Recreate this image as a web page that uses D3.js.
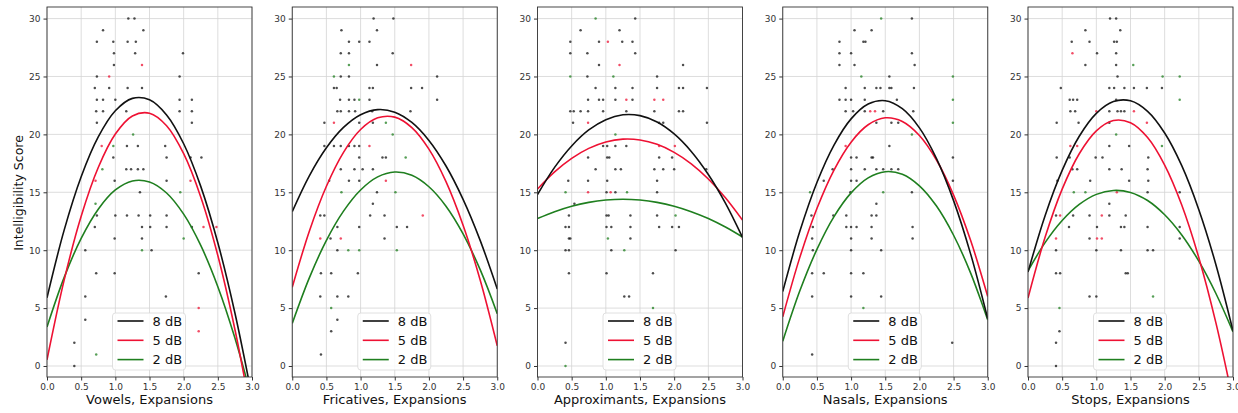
<!DOCTYPE html>
<html><head><meta charset="utf-8">
<script src="https://cdn.jsdelivr.net/npm/d3@7/dist/d3.min.js"></script>
<style>
html,body{margin:0;padding:0;background:#fff;}
svg{display:block;font-family:"DejaVu Sans",sans-serif;}
</style></head>
<body><svg id="c" width="1238" height="413"></svg>
<script>
const panelNames = ["Vowels, Expansions","Fricatives, Expansions","Approximants, Expansions","Nasals, Expansions","Stops, Expansions"];
const seriesLabels = ["8 dB","5 dB","2 dB"];
const xTicks = [0,0.5,1,1.5,2,2.5,3];
const yTicks = [0,5,10,15,20,25,30];
const xGrid = [0,0.25,0.5,0.75,1,1.25,1.5,1.75,2,2.25,2.5,2.75,3];

const curves8dB = [
 [5.89,11.71,16.34,19.78,22.04,23.11,22.99,21.68,19.19,15.51,10.64,4.58,-2.66],
 [13.33,16.42,18.84,20.60,21.70,22.14,21.92,21.03,19.48,17.27,14.39,10.85,6.65],
 [14.81,17.15,19.00,20.38,21.27,21.69,21.62,21.07,20.04,18.53,16.54,14.07,11.11],
 [6.43,11.63,15.85,19.08,21.34,22.62,22.91,22.22,20.56,17.91,14.28,9.66,4.07],
 [8.11,12.98,16.89,19.84,21.82,22.84,22.90,21.99,20.12,17.30,13.50,8.75,3.03]
];
const curves5dB = [
 [0.53,7.39,12.93,17.14,20.03,21.59,21.83,20.75,18.33,14.60,9.54,3.15,-4.56],
 [6.80,11.64,15.52,18.45,20.42,21.43,21.49,20.59,18.73,15.92,12.15,7.43,1.75],
 [15.28,16.76,17.93,18.79,19.35,19.59,19.52,19.14,18.45,17.46,16.15,14.53,12.60],
 [4.25,9.38,13.60,16.92,19.33,20.83,21.43,21.12,19.91,17.79,14.76,10.83,5.99],
 [5.87,11.11,15.27,18.33,20.31,21.20,21.01,19.73,17.35,13.90,9.35,3.72,-3.00]
];
const curves2dB = [
 [3.37,7.63,11.02,13.54,15.20,15.98,15.89,14.94,13.11,10.41,6.85,2.41,-2.90],
 [3.68,7.61,10.85,13.37,15.20,16.33,16.75,16.47,15.48,13.80,11.41,8.32,4.52],
 [12.74,13.33,13.80,14.13,14.33,14.40,14.33,14.13,13.80,13.33,12.74,12.00,11.14],
 [2.14,6.49,10.07,12.90,14.95,16.25,16.78,16.56,15.56,13.81,11.29,8.02,3.97],
 [8.21,10.65,12.56,13.95,14.82,15.16,14.99,14.29,13.06,11.32,9.05,6.26,2.95]
];

// scatter points: [expansion, score, series(0=8dB,1=5dB,2=2dB)]
const vowelsPoints = [
 [1.19,30,0],[1.28,30,0],[0.82,29,0],[1.41,29,0],[0.73,28,0],[0.97,28,0],[1.18,28,0],[1.30,28,0],
 [0.98,27,0],[1.29,27,0],[1.99,27,0],[0.98,26,0],[1.39,26,1],[0.73,25,0],[0.91,25,1],[1.94,25,0],
 [0.70,24,0],[0.91,24,0],[1.18,24,0],[1.39,24,0],[0.73,23,0],[0.82,23,0],[1.0,23,0],[1.94,23,0],[2.12,23,0],
 [0.72,22,0],[0.82,22,0],[1.16,22,0],[1.94,22,0],[2.12,22,0],[0.73,21,0],[2.12,21,0],[1.26,20,2],
 [0.80,19,1],[0.97,19,2],[1.17,19,0],[1.33,19,0],[1.73,19,0],[0.97,18,0],[1.75,18,0],[2.10,18,0],[2.26,18,0],
 [0.81,17,2],[1.16,17,0],[1.23,17,0],[1.33,17,0],[1.41,17,0],[0.71,16,1],[0.99,16,0],[1.75,16,0],[2.10,16,1],
 [1.36,15,0],[1.95,15,2],[0.71,14,2],[0.73,13,0],[1.0,13,0],[1.17,13,0],[1.34,13,0],[1.51,13,0],[1.75,13,0],
 [0.70,12,0],[1.39,12,0],[1.51,12,0],[1.75,12,0],[2.12,12,0],[2.29,12,1],[2.48,12,1],[0.99,11,0],[1.39,11,0],[2.0,11,2],
 [0.56,10,0],[1.39,10,2],[1.53,10,0],[0.72,8,0],[0.99,8,0],[2.22,8,0],[0.56,6,0],[1.74,6,0],[2.22,5,1],
 [0.56,4,0],[2.22,3,1],[0.40,2,0],[0.72,1,2],[0.40,0,0]
];
const fricativesPoints = [
 [1.19,30,0],[1.48,30,0],[0.72,29,0],[1.24,29,0],[0.83,28,0],[0.98,28,0],[1.13,28,0],[0.71,27,0],[0.83,27,0],[1.47,27,0],
 [0.83,26,2],[1.24,26,0],[1.74,26,1],[0.61,25,2],[0.71,25,0],[0.83,25,0],[2.12,25,0],
 [0.61,24,0],[0.65,24,0],[1.13,24,0],[1.18,24,0],[1.74,24,0],[1.90,24,0],
 [0.70,23,0],[0.83,23,0],[0.91,23,0],[0.98,23,2],[1.13,23,0],[2.12,23,0],
 [0.66,22,0],[0.71,22,0],[0.83,22,0],[0.92,22,0],[1.17,22,0],[1.73,22,0],
 [0.47,21,0],[0.61,21,1],[0.98,21,0],[1.18,21,0],[1.37,21,2],[1.47,20,2],
 [0.47,19,0],[0.61,19,0],[0.71,19,0],[0.83,19,0],[0.91,19,0],[0.98,19,0],[1.13,19,1],
 [0.98,18,0],[1.32,18,0],[1.37,18,0],[1.66,18,2],[0.71,17,0],[0.91,17,0],[1.03,17,0],[1.18,17,0],
 [0.54,16,0],[0.83,16,0],[0.98,16,0],[1.37,16,1],[0.72,15,2],[1.24,15,0],[1.51,15,2],[1.18,14,0],
 [0.41,13,0],[0.47,13,0],[1.14,13,0],[1.35,13,0],[1.91,13,1],[0.66,12,0],[0.98,12,0],[1.53,12,0],[1.68,12,0],
 [0.41,11,1],[0.56,11,0],[0.71,11,1],[1.35,11,0],[0.66,10,0],[0.82,10,2],[0.98,10,2],[1.53,10,2],
 [0.42,8,0],[0.57,8,0],[0.96,8,0],[0.41,6,0],[0.66,6,0],[0.82,6,0],[0.57,5,2],[0.66,4,0],[0.57,3,0],[0.42,1,0]
];
const approximantsPoints = [
 [0.85,30,2],[1.43,30,0],[0.63,29,0],[1.20,29,0],[0.48,28,0],[0.90,28,0],[1.03,28,1],[1.24,28,0],[1.39,28,0],
 [0.48,27,0],[0.73,27,0],[1.43,27,0],[0.90,26,0],[1.20,26,1],[2.13,26,0],[0.48,25,2],[0.73,25,0],[1.11,25,2],[1.75,25,0],
 [0.85,24,0],[1.14,24,0],[1.39,24,0],[1.75,24,0],[2.07,24,0],[2.13,24,0],[2.48,24,0],
 [0.74,23,0],[0.90,23,0],[0.96,23,0],[1.14,23,0],[1.30,23,1],[1.39,23,0],[1.71,23,1],[1.84,23,1],
 [0.48,22,0],[0.53,22,0],[0.63,22,0],[0.74,22,0],[0.96,22,0],[1.30,22,0],[1.71,22,0],[2.07,22,0],[2.13,22,0],
 [0.52,21,0],[0.74,21,1],[1.78,21,0],[1.84,21,0],[2.48,21,0],[1.14,20,2],
 [0.96,19,0],[1.02,19,0],[1.14,19,0],[1.30,19,0],[1.78,19,1],[2.01,19,1],
 [0.74,18,0],[1.02,18,0],[1.05,18,0],[1.78,18,0],[1.97,18,0],
 [0.85,17,0],[1.14,17,0],[1.22,17,0],[1.71,17,0],[1.84,17,0],[2.00,17,0],[2.47,17,0],
 [0.45,16,0],[0.74,16,0],[1.02,16,0],[1.75,16,0],
 [0.41,15,2],[0.74,15,1],[1.01,15,0],[1.07,15,1],[1.14,15,0],[1.31,15,2],[1.75,15,0],[0.54,14,0],
 [0.46,13,0],[1.01,13,0],[1.04,13,0],[1.36,13,0],[1.75,13,0],[2.02,13,2],
 [0.41,12,0],[0.46,12,0],[1.01,12,0],[1.08,12,0],[1.36,12,0],[1.78,12,0],[1.97,12,0],[2.07,12,0],
 [0.46,11,0],[0.48,11,0],[1.03,11,2],[1.36,11,0],[0.41,10,0],[0.46,10,0],[1.08,10,0],[1.27,10,2],[2.02,10,0],
 [0.46,8,0],[1.01,8,0],[1.69,8,0],[1.27,6,0],[1.34,6,0],[1.69,5,2],[0.41,2,0],[0.41,0,2]
];
const nasalsPoints = [
 [1.44,30,2],[1.89,30,0],[1.05,29,0],[1.30,29,0],[0.83,28,0],[1.18,28,0],[1.21,28,0],[0.83,27,0],[1.0,27,0],[1.89,27,0],
 [0.83,26,0],[1.05,26,0],[1.93,26,0],[1.15,25,2],[1.56,25,0],[2.49,25,2],
 [0.92,24,0],[1.20,24,0],[1.37,24,0],[1.43,24,0],[1.56,24,0],[1.59,24,0],[1.92,24,0],
 [0.83,23,0],[0.92,23,0],[1.0,23,0],[1.20,23,0],[1.67,23,0],[2.49,23,2],
 [0.92,22,0],[1.03,22,0],[1.20,22,0],[1.28,22,1],[1.35,22,1],[1.47,22,0],[1.91,22,0],
 [1.37,21,0],[1.59,21,0],[1.69,21,0],[2.49,21,2],[1.89,20,2],[0.92,19,1],[1.56,19,0],
 [1.0,18,0],[1.08,18,0],[1.30,18,0],[1.32,18,0],[2.49,18,0],
 [0.73,17,0],[1.0,17,0],[1.20,17,0],[1.37,17,0],[1.47,17,0],[1.59,17,0],[1.69,17,0],
 [0.60,16,0],[1.0,16,0],[1.08,16,0],[2.49,16,0],[0.40,15,2],[0.99,15,0],[1.47,15,2],[1.89,15,0],[1.37,14,0],
 [0.42,13,0],[0.74,13,0],[0.93,13,0],[1.30,13,0],[1.37,13,0],
 [0.44,12,0],[0.93,12,0],[1.0,12,0],[1.08,12,0],[1.30,12,0],[1.90,12,0],
 [0.43,11,0],[1.0,11,0],[1.30,11,0],[1.90,11,0],[0.44,10,0],[1.0,10,0],[1.44,10,0],
 [0.43,8,0],[0.60,8,0],[1.0,8,0],[1.18,8,0],[0.43,6,0],[1.0,6,0],[1.44,6,0],[1.18,5,2],[2.48,2,0],[0.43,1,0]
];
const stopsPoints = [
 [1.20,30,0],[1.29,30,0],[0.84,29,0],[1.35,29,0],[0.64,28,0],[0.90,28,0],[1.26,28,0],[1.30,28,0],
 [0.65,27,1],[1.01,27,0],[1.29,27,0],[0.84,26,0],[1.29,26,0],[1.54,26,2],[1.31,25,0],[1.97,25,2],[2.22,25,2],
 [0.48,24,0],[1.19,24,0],[1.26,24,0],[1.41,24,0],[1.55,24,0],[1.74,24,0],[1.96,24,0],
 [0.61,23,0],[0.66,23,0],[0.72,23,0],[1.29,23,0],[2.22,23,2],
 [0.62,22,0],[0.69,22,0],[1.0,22,1],[1.19,22,0],[1.31,22,0],[1.36,22,0],[1.41,22,0],[1.55,22,1],
 [0.42,21,0],[0.74,21,0],[1.19,21,0],[1.74,21,1],[1.29,20,2],
 [0.62,19,1],[0.72,19,1],[1.19,19,0],[1.48,19,0],[1.96,19,2],
 [0.42,18,0],[0.61,18,0],[0.99,18,0],[1.09,18,0],[1.76,18,0],
 [0.65,17,0],[0.72,17,0],[1.19,17,0],[1.37,17,0],[1.75,17,0],[0.43,16,0],[0.91,16,0],[1.48,16,0],[1.76,16,0],
 [0.67,15,2],[0.84,15,2],[1.30,15,1],[1.75,15,0],[2.22,15,0],[1.19,14,0],
 [0.41,13,0],[0.47,13,1],[0.66,13,0],[0.90,13,0],[1.08,13,1],[1.19,13,0],[1.43,13,0],
 [0.60,12,0],[1.01,12,0],[1.36,12,0],[1.41,12,0],[1.75,12,0],[2.22,12,0],
 [0.41,11,1],[0.90,11,0],[1.01,11,1],[1.08,11,1],[2.22,11,0],[0.41,10,0],[1.0,10,0],[1.36,10,0],[1.75,10,0],[1.83,10,0],
 [0.41,8,0],[0.47,8,0],[1.43,8,0],[1.46,8,0],[0.90,6,0],[1.00,6,0],[1.83,6,2],[0.46,5,2],[0.46,3,0],[0.41,2,0],[0.41,0,0]
];
const panelPoints = [vowelsPoints, fricativesPoints, approximantsPoints, nasalsPoints, stopsPoints];

const colors = ["#111111","#ee1133","#1f7f1f"];

const svg = d3.select("#c");
svg.append("rect").attr("width",1238).attr("height",413).attr("fill","#fff");

const plotW = 205, plotH = 370, plotTop = 7, firstLeft = 47, step = 245.25;
const x = d3.scaleLinear().domain([0,3]).range([0,plotW]);
const y = d3.scaleLinear().domain([-0.95,31.0]).range([plotH,0]);
const allCurves = [curves8dB, curves5dB, curves2dB];

panelNames.forEach((name,i)=>{
  const g = svg.append("g").attr("transform",`translate(${firstLeft+i*step},${plotTop})`);
  // grid
  g.append("g").selectAll("line").data(xTicks).join("line")
    .attr("x1",d=>x(d)).attr("x2",d=>x(d)).attr("y1",0).attr("y2",plotH)
    .attr("stroke","#d4d4d4").attr("stroke-width",0.8);
  g.append("g").selectAll("line").data(yTicks).join("line")
    .attr("y1",d=>y(d)).attr("y2",d=>y(d)).attr("x1",0).attr("x2",plotW)
    .attr("stroke","#d4d4d4").attr("stroke-width",0.8);
  const clipId = "clip"+i;
  g.append("clipPath").attr("id",clipId).append("rect").attr("width",plotW).attr("height",plotH);
  const inner = g.append("g").attr("clip-path",`url(#${clipId})`);
  // points
  inner.append("g").selectAll("circle").data(panelPoints[i]).join("circle")
    .attr("cx",d=>x(d[0])).attr("cy",d=>y(d[1])).attr("r",1.25)
    .attr("fill",d=>colors[d[2]]).attr("fill-opacity",0.75);
  // curves
  const line = d3.line().x((d,j)=>x(xGrid[j])).y(d=>y(d)).curve(d3.curveCatmullRom.alpha(0.5));
  [2,1,0].forEach(s=>{
    inner.append("path").attr("d",line(allCurves[s][i])).attr("fill","none")
      .attr("stroke",colors[s]).attr("stroke-width",1.6);
  });
  // axes
  const xa = g.append("g").attr("transform",`translate(0,${plotH})`)
    .call(d3.axisBottom(x).tickValues(xTicks).tickFormat(d3.format(".1f")).tickSize(3.5).tickPadding(3));
  const ya = g.append("g").call(d3.axisLeft(y).tickValues(yTicks).tickFormat(d3.format("d")).tickSize(3.5).tickPadding(3));
  [xa,ya].forEach(a=>{
    a.select(".domain").remove();
    a.selectAll("text").attr("font-size",9).attr("fill","#333").attr("font-family","DejaVu Sans");
    a.selectAll("line").attr("stroke","#333");
  });
  g.append("rect").attr("width",plotW).attr("height",plotH).attr("fill","none")
    .attr("stroke","#333").attr("stroke-width",0.9);
  // x label
  g.append("text").attr("x",plotW/2).attr("y",397).attr("text-anchor","middle")
    .attr("font-size",13).attr("fill","#111").text(name);
  // legend
  const cx = plotW/2;
  const lg = g.append("g").attr("transform",`translate(${cx-37},${306})`);
  lg.append("rect").attr("width",73).attr("height",57).attr("rx",3)
    .attr("fill","#fff").attr("fill-opacity",0.85).attr("stroke","#d8d8d8").attr("stroke-width",0.8);
  seriesLabels.forEach((lab,s)=>{
    const yy = 8 + s*19.3;
    lg.append("line").attr("x1",5).attr("x2",31).attr("y1",yy).attr("y2",yy)
      .attr("stroke",colors[s]).attr("stroke-width",1.6);
    lg.append("text").attr("x",40).attr("y",yy+4.7).attr("font-size",13).attr("fill","#111").text(lab);
  });
});

svg.append("text").attr("transform","translate(23,193) rotate(-90)").attr("text-anchor","middle")
  .attr("font-size",12.5).attr("fill","#111").text("Intelligibility Score");
</script></body></html>
